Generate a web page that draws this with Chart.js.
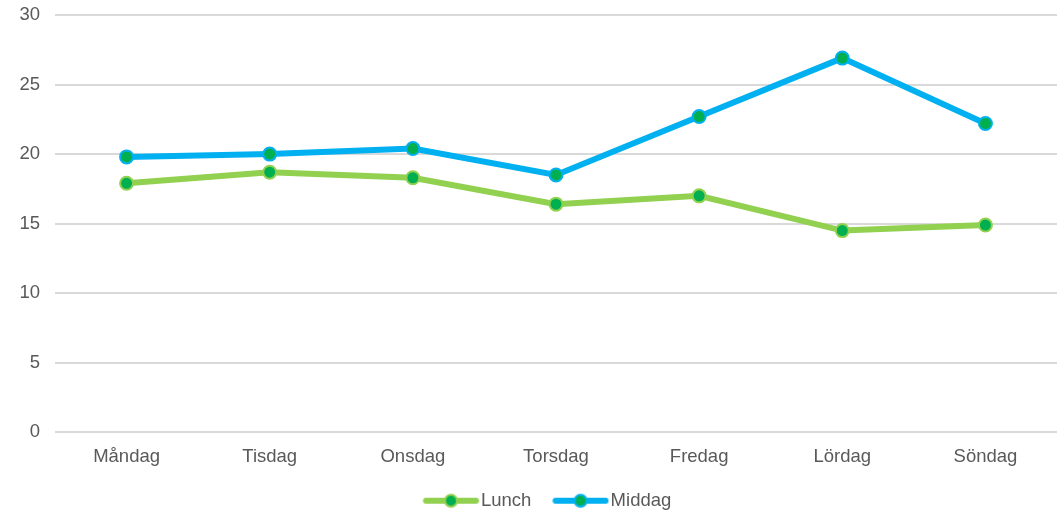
<!DOCTYPE html>
<html>
<head>
<meta charset="utf-8">
<script src="https://cdn.jsdelivr.net/npm/chart.js@4"></script>
<style>
  html, body { margin: 0; padding: 0; background: #fff; }
  #wrap { width: 1058px; height: 513px; }
</style>
</head>
<body>
<div id="wrap"><canvas id="chart"></canvas></div>
<script>
const days = ['Måndag', 'Tisdag', 'Onsdag', 'Torsdag', 'Fredag', 'Lördag', 'Söndag'];
const lunch = [17.9, 18.7, 18.3, 16.4, 17.0, 14.5, 14.9];
const middag = [19.8, 20.0, 20.4, 18.5, 22.7, 26.9, 22.2];
const yTicks = [0, 5, 10, 15, 20, 25, 30];

const green = '#92D050';
const blue = '#00B0F0';
const dot = '#00B050';
const fontSize = 18.5;

// legend symbol: a short line with a marker in the middle,
// drawn off-centre so the text sits close to it
function legendIcon(color) {
    const c = document.createElement('canvas');
    c.width = 76; c.height = 16;
    const g = c.getContext('2d');
    const x0 = 19.25, x1 = 75.25, mid = (x0 + x1) / 2;
    g.strokeStyle = color;
    g.lineWidth = 6;
    g.lineCap = 'round';
    g.beginPath(); g.moveTo(x0 + 3, 8); g.lineTo(x1 - 3, 8); g.stroke();
    g.beginPath(); g.arc(mid, 8, 6, 0, Math.PI * 2);
    g.fillStyle = dot; g.fill();
    g.lineWidth = 2; g.strokeStyle = color; g.stroke();
    return c;
}

// nudge the legend a bit right and down, like the original
const legendNudge = {
    id: 'legendNudge',
    afterLayout(chart) {
        const l = chart.legend;
        l.left += 13; l.right += 13;
        l.top += 7; l.bottom += 7;
    }
};

Chart.defaults.font.family = 'Arial, "Liberation Sans", sans-serif';
Chart.defaults.color = '#595959';

const ctx = document.getElementById('chart').getContext('2d');
const myChart = new Chart(ctx, {
    type: 'line',
    data: {
        labels: days,
        datasets: [{
            label: 'Lunch',
            data: lunch,
            borderColor: green,
            borderWidth: 6,
            pointBackgroundColor: dot,
            pointBorderColor: green,
            pointBorderWidth: 2,
            pointRadius: 6.5,
            tension: 0
        }, {
            label: 'Middag',
            data: middag,
            borderColor: blue,
            borderWidth: 6,
            pointBackgroundColor: dot,
            pointBorderColor: blue,
            pointBorderWidth: 2,
            pointRadius: 6.5,
            tension: 0
        }]
    },
    options: {
        responsive: true,
        maintainAspectRatio: false,
        animation: false,
        layout: { autoPadding: false, padding: { top: 15, right: 1, left: 0, bottom: 0 } },
        scales: {
            x: {
                offset: true,
                grid: { display: false },
                border: { display: false },
                afterFit: s => { s.paddingLeft = 0; s.paddingRight = 0; },
                ticks: { font: { size: fontSize }, color: '#595959', padding: 6 }
            },
            y: {
                min: 0,
                max: 30,
                afterBuildTicks: s => { s.ticks = yTicks.map(v => ({ value: v })); },
                afterFit: s => { s.width = 55; s.paddingTop = 0; s.paddingBottom = 0; },
                grid: { color: '#d9d9d9', lineWidth: 2, drawTicks: false },
                border: { display: false },
                ticks: { font: { size: fontSize }, color: '#595959', padding: 15 }
            }
        },
        plugins: {
            legend: {
                position: 'bottom',
                labels: {
                    usePointStyle: true,
                    pointStyleWidth: 60,
                    generateLabels: chart => chart.data.datasets.map((d, i) => ({
                        text: d.label,
                        pointStyle: legendIcon(d.borderColor),
                        fontColor: '#595959',
                        datasetIndex: i
                    })),
                    font: { size: fontSize },
                    padding: 10
                }
            },
            tooltip: { enabled: false }
        }
    },
    plugins: [legendNudge]
});
</script>
</body>
</html>
